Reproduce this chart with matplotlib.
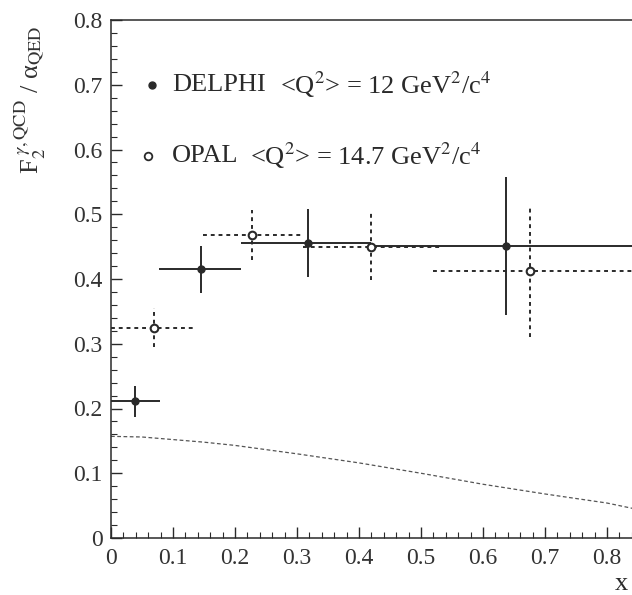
import matplotlib
matplotlib.use("Agg")
import matplotlib.pyplot as plt
from matplotlib.ticker import MultipleLocator

plt.rcParams['font.family'] = ['Liberation Serif', 'DejaVu Serif']
plt.rcParams['mathtext.fontset'] = 'stix'

# DELPHI (filled points, solid error bars)
delphi_x = [0.039, 0.145, 0.317, 0.637]
delphi_y = [0.211, 0.415, 0.456, 0.451]
delphi_xlo = [0.039, 0.067, 0.107, 0.217]
delphi_xhi = [0.040, 0.065, 0.103, 0.300]
delphi_ylo = [0.024, 0.037, 0.053, 0.107]
delphi_yhi = [0.024, 0.036, 0.052, 0.107]

# OPAL (open points, dotted error bars)
opal_x = [0.069, 0.228, 0.420, 0.676]
opal_y = [0.325, 0.468, 0.450, 0.413]
opal_xlo = [0.069, 0.079, 0.110, 0.156]
opal_xhi = [0.065, 0.082, 0.110, 0.200]
opal_ylo = [0.030, 0.038, 0.052, 0.102]
opal_yhi = [0.030, 0.039, 0.052, 0.097]

# QCD curve (dashed)
curve_x = [0.0, 0.05, 0.1, 0.15, 0.2, 0.3, 0.4, 0.5, 0.6, 0.7, 0.8, 0.85]
curve_y = [0.157, 0.156, 0.152, 0.148, 0.143, 0.130, 0.116, 0.100, 0.083, 0.068, 0.054, 0.044]

W, H = 632, 595
fig = plt.figure(figsize=(W / 100, H / 100), dpi=100)
x0, y0 = 111, 538
sx, sy = 620.0, 647.5
xmax = 0.85
ax = fig.add_axes([x0 / W, (H - y0) / H, xmax * sx / W, 0.8 * sy / H])
ax.set_xlim(0, xmax)
ax.set_ylim(0, 0.8)

col = '#2a2a2a'
ax.plot(curve_x, curve_y, linestyle=(0, (3, 2)), color='#555555', lw=0.9)

e1 = ax.errorbar(delphi_x, delphi_y, xerr=[delphi_xlo, delphi_xhi], yerr=[delphi_ylo, delphi_yhi],
                 fmt='o', ms=5, color=col, mfc=col, mec=col, elinewidth=1.4, capsize=0)
e2 = ax.errorbar(opal_x, opal_y, xerr=[opal_xlo, opal_xhi], yerr=[opal_ylo, opal_yhi],
                 fmt='o', ms=5.5, color=col, mfc='white', mec=col, mew=1.5, elinewidth=1.4, capsize=0)
for lc in e2[2]:
    lc.set_linestyle((0, (2, 2)))

# legend-like text
fs = 19
ax.plot([0.066], [0.700], 'o', ms=5, color=col)
ax.plot([0.060], [0.590], 'o', ms=5.5, mfc='white', mec=col, mew=1.3)
ax.text(0.098, 0.700, 'DELPHI', fontsize=fs, va='center', ha='left', color=col)
ax.text(0.272, 0.700, r'<Q$^2$> = 12 GeV$^2$/c$^4$', fontsize=fs, va='center', ha='left', color=col)
ax.text(0.098, 0.590, 'OPAL', fontsize=fs, va='center', ha='left', color=col)
ax.text(0.224, 0.590, r'<Q$^2$> = 14.7 GeV$^2$/c$^4$', fontsize=fs, va='center', ha='left', color=col)

ax.xaxis.set_major_locator(MultipleLocator(0.1))
ax.xaxis.set_minor_locator(MultipleLocator(0.02))
ax.yaxis.set_major_locator(MultipleLocator(0.1))
ax.yaxis.set_minor_locator(MultipleLocator(0.02))
ax.tick_params(which='both', direction='in', top=False, right=False, color=col)
ax.tick_params(which='major', length=8, width=1.0, labelsize=17, labelcolor='#333333')
ax.tick_params(which='minor', length=4, width=0.8)
ax.tick_params(axis='x', pad=7)
ax.tick_params(axis='y', pad=6)
ax.set_xticks([0, 0.1, 0.2, 0.3, 0.4, 0.5, 0.6, 0.7, 0.8])
ax.set_xticklabels(['0', '0.1', '0.2', '0.3', '0.4', '0.5', '0.6', '0.7', '0.8'])
ax.set_yticks([0, 0.1, 0.2, 0.3, 0.4, 0.5, 0.6, 0.7, 0.8])
ax.set_yticklabels(['0', '0.1', '0.2', '0.3', '0.4', '0.5', '0.6', '0.7', '0.8'])
for s in ax.spines.values():
    s.set_color(col)
    s.set_linewidth(1.1)
ax.spines['right'].set_visible(False)

fig.text(30 / W, 1 - 100 / H, r'F$_2^{\ \gamma,\mathrm{QCD}}$ / α$_{\mathrm{QED}}$',
         rotation=90, fontsize=19, ha='center', va='center', color='#333333')
fig.text(621 / W, 1 - 584 / H, 'x', fontsize=19, ha='center', va='center', color=col)

fig.savefig('out.png', dpi=100)
